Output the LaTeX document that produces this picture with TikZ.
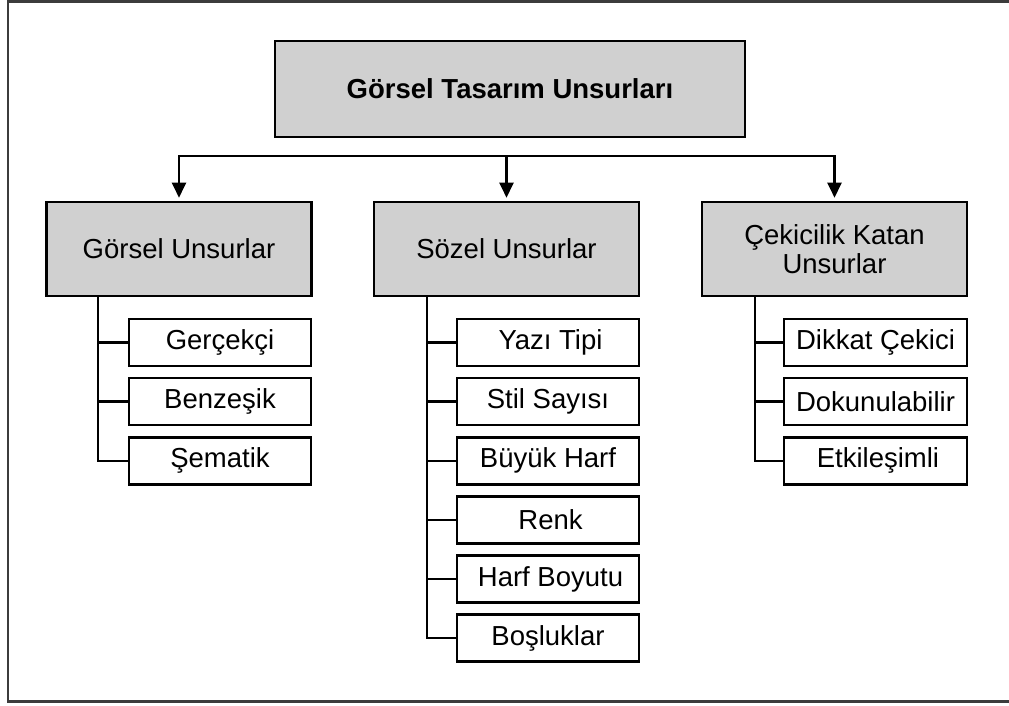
\documentclass[tikz,border=0pt]{standalone}
\usepackage{fontspec}
\setmainfont{Liberation Sans}
\usetikzlibrary{arrows.meta,calc}
\definecolor{boxgray}{RGB}{208,208,208}
\definecolor{framegray}{RGB}{60,60,60}
\begin{document}
\begin{tikzpicture}[x=1pt,y=-1pt,
  txt/.style={font=\fontsize{27.5}{29}\selectfont},
  headbox/.style={draw=black,line width=2.6pt,fill=boxgray,inner sep=0pt,
    minimum width=265pt,minimum height=94pt,align=center,txt},
  leafbox/.style={draw=black,line width=2.6pt,fill=white,inner sep=0pt,
    minimum width=182pt,minimum height=47pt,txt},
  conn/.style={draw=black,line width=2.3pt},
  tip/.style={-{Triangle[length=15pt,width=14pt]},shorten >=3pt}]
\useasboundingbox (0,0) rectangle (1009,705);

% outer frame (open on the right)
\draw[framegray,line width=2.2pt] (1009,1.5) -- (8,1.5) -- (8,701.5) -- (1009,701.5);

% root
\node[draw=black,line width=2.6pt,fill=boxgray,minimum width=470pt,minimum height=96pt,
  inner sep=0pt,font=\fontsize{27.5}{29}\selectfont\bfseries] (root) at (510,89)
  {Görsel Tasarım Unsurları};

% second level
\node[headbox] (g1) at (179,249) {Görsel Unsurlar};
\node[headbox] (g2) at (506.5,249) {Sözel Unsurlar};
\node[headbox] (g3) at (834.5,249) {Çekicilik Katan\\Unsurlar};

% distribution bar with arrows
\coordinate (bar) at (0,156);
\draw[conn,{Triangle[length=15pt,width=14pt]}-{Triangle[length=15pt,width=14pt]},
  shorten <=3pt,shorten >=3pt]
  (g1.north) |- (bar -| g3.north) -- (g3.north);
\draw[conn,tip] (bar -| g2.north) -- (g2.north);

% leaves of the first group
\node[leafbox] (a1) at (220,342.5) {Gerçekçi};
\node[leafbox] (a2) at (220,401.6) {Benzeşik};
\node[leafbox] (a3) at (220,460.7) {Şematik};

% leaves of the second group
\node[leafbox] (b1) at (548,342.5) {\hspace{5pt}Yazı Tipi};
\node[leafbox] (b2) at (548,401.6) {Stil Sayısı};
\node[leafbox] (b3) at (548,460.7) {Büyük Harf};
\node[leafbox] (b4) at (548,519.8) {\hspace{5pt}Renk};
\node[leafbox] (b5) at (548,578.9) {\hspace{5pt}Harf Boyutu};
\node[leafbox] (b6) at (548,638) {Boşluklar};

% leaves of the third group
\node[leafbox,minimum width=183pt] (c1) at (875.5,342.5) {Dikkat Çekici};
\node[leafbox,minimum width=183pt] (c2) at (875.5,401.6) {Dokunulabilir};
\node[leafbox,minimum width=183pt] (c3) at (875.5,460.7) {\hspace{5pt}Etkileşimli};

% trunks
\coordinate (t1) at ($(g1.south west)+(53,0)$);
\coordinate (t2) at ($(g2.south west)+(54,0)$);
\coordinate (t3) at ($(g3.south west)+(54,0)$);

\draw[conn] (t1) |- (a3.west);
\foreach \n in {a1,a2} \draw[conn] (t1 |- \n.west) -- (\n.west);

\draw[conn] (t2) |- (b6.west);
\foreach \n in {b1,b2,b3,b4,b5} \draw[conn] (t2 |- \n.west) -- (\n.west);

\draw[conn] (t3) |- (c3.west);
\foreach \n in {c1,c2} \draw[conn] (t3 |- \n.west) -- (\n.west);
\end{tikzpicture}
\end{document}
